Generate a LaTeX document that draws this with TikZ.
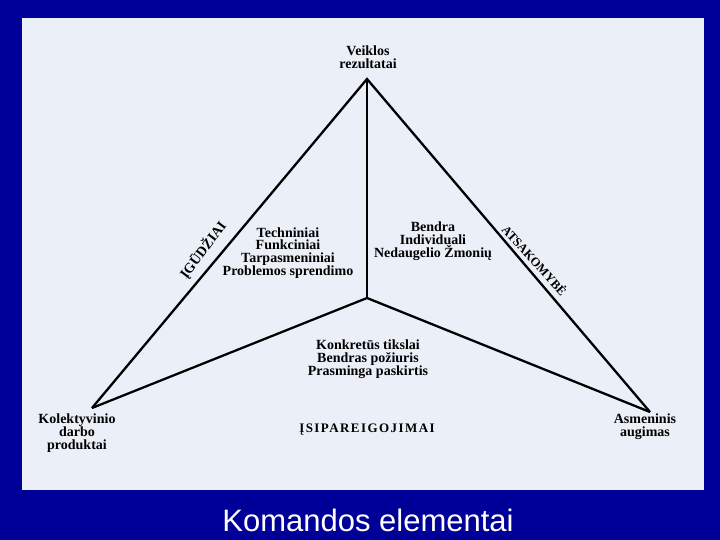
\documentclass[tikz,border=0pt]{standalone}
\usepackage{fontspec}
\setmainfont{Liberation Serif}
\setsansfont{Liberation Sans}
\definecolor{slideblue}{RGB}{0,0,153}
\definecolor{panelgray}{RGB}{235,240,248}
\begin{document}
\begin{tikzpicture}[
  x=1pt, y=-1pt,
  every node/.style={align=center, inner sep=0pt},
  lbl/.style={font=\bfseries\fontsize{14}{12.8}\selectfont},
  sidelbl/.style={font=\bfseries\fontsize{14}{14}\selectfont},
  edge/.style={line width=2.3pt, line join=miter}
]
\useasboundingbox (0,0) rectangle (720,540);
\fill[slideblue] (0,0) rectangle (720,540);
\fill[panelgray] (22,18) rectangle (704,490);

\coordinate (apex) at (367,79);
\coordinate (leftcorner) at (92,408);
\coordinate (rightcorner) at (650,412);
\coordinate (middle) at (367,298);

\draw[edge] (leftcorner) -- (apex) -- (rightcorner);
\draw[edge] (apex) -- (middle);
\draw[edge] (leftcorner) -- (middle) -- (rightcorner);

\node[lbl] (results) at (368,57) {Veiklos\\rezultatai};
\node[lbl] (skills) at (288,253) {Techniniai\\Funkciniai\\Tarpasmeniniai\\Problemos sprendimo};
\node[lbl] (shared) at (433,241) {Bendra\\Individuali\\Nedaugelio Žmonių};
\node[lbl] (goals) at (368,359) {Konkretūs tikslai\\Bendras požiuris\\Prasminga paskirtis};
\node[lbl] (products) at (77,433) {Kolektyvinio\\darbo\\produktai};
\node[lbl] (growth) at (645,427) {Asmeninis\\augimas};
\node[sidelbl, font=\bfseries\fontsize{13}{13}\selectfont\addfontfeatures{LetterSpace=11}] (commit) at (367,430) {ĮSIPAREIGOJIMAI};
\node[sidelbl, rotate=53] (skillside) at (203,250) {ĮGŪDŽIAI};
\node[sidelbl, rotate=-48, font=\bfseries\fontsize{12.5}{13}\selectfont] (dutyside) at (535,260) {ATSAKOMYBĖ};

\node[font=\sffamily\fontsize{31}{31}\selectfont, text=white] (title) at (368,520) {Komandos elementai};
\end{tikzpicture}
\end{document}
